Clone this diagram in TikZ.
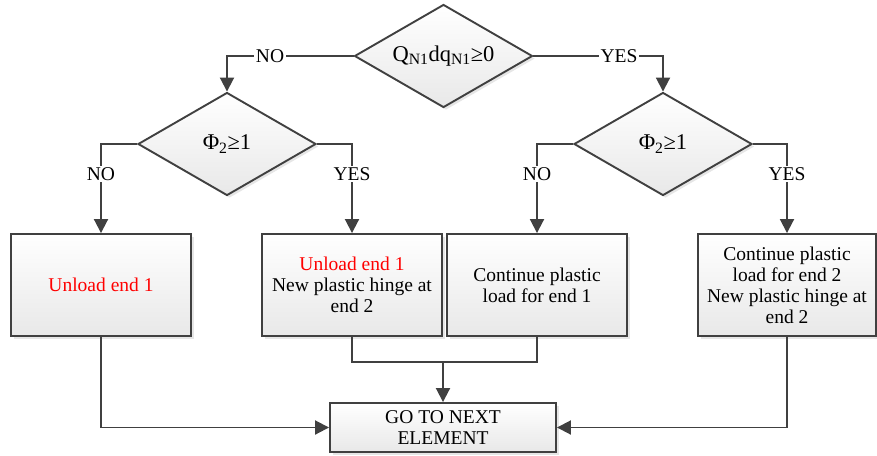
\documentclass[tikz,border=0pt]{standalone}
\usepackage{fontspec}
\setmainfont{Liberation Serif}
\usetikzlibrary{shapes.geometric,arrows.meta,shadows}
\definecolor{linegray}{HTML}{404040}
\begin{document}
\begin{tikzpicture}[x=1pt,y=-1pt,
  font=\fontsize{19.5}{21}\selectfont,
  base/.style={draw=linegray,line width=1.9pt,top color=white,bottom color=black!9,
    drop shadow={opacity=0.2,shadow xshift=2.5pt,shadow yshift=-2.5pt},inner sep=2pt},
  decision/.style={base,diamond,aspect=1.73,minimum width=178pt,minimum height=103pt,inner sep=0pt,
    font=\fontsize{22.5}{24}\selectfont},
  stepbox/.style={base,rectangle,minimum width=180pt,minimum height=102pt,align=center},
  link/.style={draw=linegray,line width=1.9pt},
  arrow/.style={link,-{Triangle[length=14pt,width=14pt]}},
  tag/.style={fill=white,inner sep=1.5pt}]
\useasboundingbox (0,0) rectangle (877,455);

% decisions
\node[decision] (d0) at (443.5,56) {Q\textsubscript{N1}dq\textsubscript{N1}≥0};
\node[decision] (d1) at (227,144) {Φ\textsubscript{2}≥1};
\node[decision] (d2) at (663,144) {Φ\textsubscript{2}≥1};

% actions
\node[stepbox] (b1) at (101,285) {\textcolor{red}{Unload end 1}};
\node[stepbox] (b2) at (352,285) {\textcolor{red}{Unload end 1}\\New plastic hinge at\\end 2};
\node[stepbox] (b3) at (537,285) {Continue plastic\\load for end 1};
\node[stepbox,minimum width=178pt] (b4) at (787,285) {Continue plastic\\load for end 2\\New plastic hinge at\\end 2};
\node[stepbox,minimum width=226pt,minimum height=49pt,inner sep=1pt] (f) at (443,427.5) {GO TO NEXT\\ELEMENT};

% branches
\draw[arrow] (d0.west) -| node[tag,pos=0.33] (l0) {NO} (d1.north);
\draw[arrow] (d0.east) -| node[tag,pos=0.33] (l1) {YES} (d2.north);
\draw[arrow] (d1.west) -| node[tag,pos=0.67] (l2) {NO} (b1.north);
\draw[arrow] (d1.east) -| node[tag,pos=0.67] (l3) {YES} (b2.north);
\draw[arrow] (d2.west) -| node[tag,pos=0.67] (l4) {NO} (b3.north);
\draw[arrow] (d2.east) -| node[tag,pos=0.67] (l5) {YES} (b4.north);

% merging into the last step
\coordinate (j) at (443,362);
\draw[link] (b2.south) |- (j) -| (b3.south);
\draw[arrow] (j) -- (f.north);
\draw[arrow] (b1.south) |- (f.west);
\draw[arrow] (b4.south) |- (f.east);
\end{tikzpicture}
\end{document}
